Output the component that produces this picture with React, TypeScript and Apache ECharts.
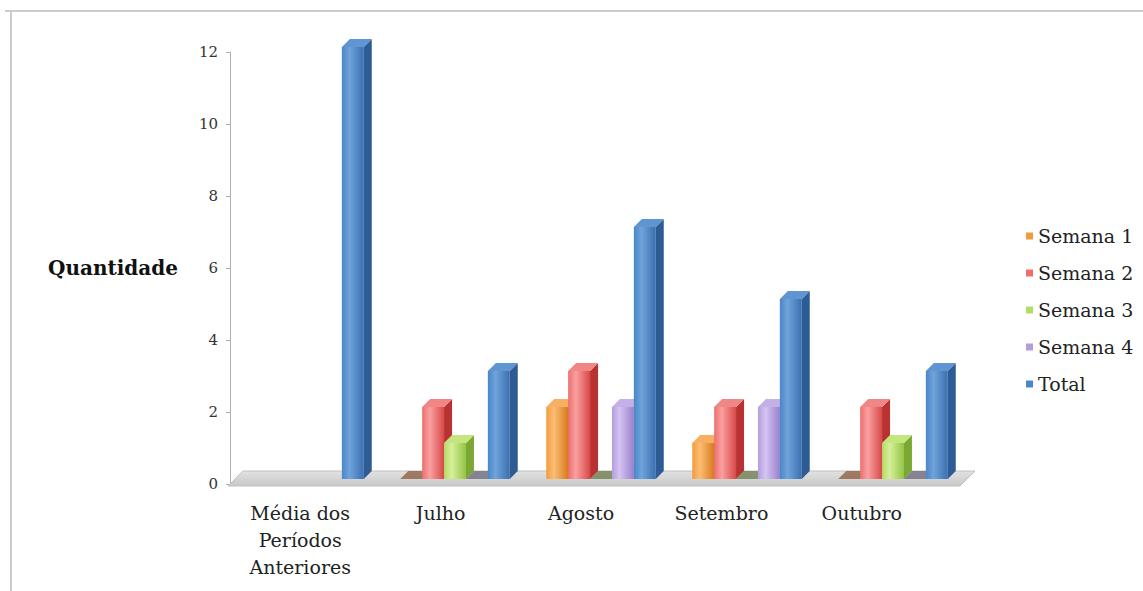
import React, { useEffect, useRef } from "react";
import * as echarts from "echarts";

// ---- Data ----
const categories = ["Média dos\nPeríodos\nAnteriores", "Julho", "Agosto", "Setembro", "Outubro"];
const seriesNames = ["Semana 1", "Semana 2", "Semana 3", "Semana 4", "Total"];
const semana1: (number | null)[] = [null, 0, 2, 1, 0];
const semana2: (number | null)[] = [null, 2, 3, 2, 2];
const semana3: (number | null)[] = [null, 1, 0, 0, 1];
const semana4: (number | null)[] = [null, 0, 2, 2, 0];
const total: (number | null)[] = [12, 3, 7, 5, 3];
const yMin = 0;
const yMax = 12;
const yInterval = 2;

const palettes = [
  { base: "#F39A3C", light: "#FBBE74", dark: "#D97A1E", side: "#C4680F", top: "#F7B062", flat: "#8A5A3A" },
  { base: "#EE6E6E", light: "#F9A0A0", dark: "#D94848", side: "#B93232", top: "#F08686", flat: "#7A4A46" },
  { base: "#B3DC66", light: "#D6F09A", dark: "#94C445", side: "#7BA832", top: "#C4E67E", flat: "#6A7A4A" },
  { base: "#B39DDE", light: "#D4C4F2", dark: "#9A80CC", side: "#7F66B2", top: "#C3B0E6", flat: "#6A6478" },
  { base: "#4A86C8", light: "#6FA3DB", dark: "#3A70B0", side: "#2D5C94", top: "#5E95D2", flat: "#3A5570" },
];
const seriesData = [semana1, semana2, semana3, semana4, total];

const DX = 8;
const DY = 8;
const LIFT = 5;
const SERIF = "'DejaVu Serif', serif";

function makeBarRender(idx: number) {
  const pal = palettes[idx];
  return (params: any, api: any) => {
    const cat = api.value(0);
    const val = api.value(1);
    if (val == null || isNaN(val)) return null;
    const band = api.size([1, 0])[0];
    const bw = band * 0.15;
    const base = api.coord([cat, 0]);
    const topP = api.coord([cat, val]);
    const x0 = base[0] - 2.5 * bw + idx * bw;
    const x1 = x0 + bw;
    const yb = base[1] - LIFT;
    const yt = topP[1] - LIFT;
    const children: any[] = [];
    if (val > 0) {
      children.push({
        type: "polygon",
        shape: { points: [[x0, yt], [x1, yt], [x1, yb], [x0, yb]] },
        style: {
          fill: {
            type: "linear", x: 0, y: 0, x2: 1, y2: 0,
            colorStops: [
              { offset: 0, color: pal.base },
              { offset: 0.35, color: pal.light },
              { offset: 1, color: pal.dark },
            ],
          },
        },
      });
      children.push({
        type: "polygon",
        shape: { points: [[x1, yt], [x1 + DX, yt - DY], [x1 + DX, yb - DY], [x1, yb]] },
        style: { fill: pal.side },
      });
      children.push({
        type: "polygon",
        shape: { points: [[x0, yt], [x1, yt], [x1 + DX, yt - DY], [x0 + DX, yt - DY]] },
        style: { fill: pal.top },
      });
    } else {
      children.push({
        type: "polygon",
        shape: { points: [[x0, yb], [x1, yb], [x1 + DX, yb - DY], [x0 + DX, yb - DY]] },
        style: { fill: pal.flat, opacity: 0.75 },
      });
    }
    return { type: "group", children };
  };
}

function renderFloor(params: any, api: any) {
  const cs = params.coordSys;
  const yb = cs.y + cs.height;
  const left = cs.x - 8;
  const right = cs.x + cs.width - 6;
  return {
    type: "polygon",
    shape: {
      points: [
        [left, yb + 2],
        [right, yb + 2],
        [right + 15, yb - 13],
        [left + 15, yb - 13],
      ],
    },
    style: {
      fill: {
        type: "linear", x: 0, y: 0, x2: 0, y2: 1,
        colorStops: [
          { offset: 0, color: "#e2e2e2" },
          { offset: 1, color: "#c8c8c8" },
        ],
      },
      stroke: "#c0c0c0",
      lineWidth: 1,
    },
  };
}

export default function App() {
  const ref = useRef<HTMLDivElement>(null);
  useEffect(() => {
    if (!ref.current) return;
    const chart = echarts.init(ref.current, null, { renderer: "svg" });
    const barSeries = seriesNames.map((name, i) => ({
      name,
      type: "custom",
      xAxisIndex: 0,
      yAxisIndex: 0,
      itemStyle: { color: palettes[i].base },
      renderItem: makeBarRender(i),
      data: seriesData[i].map((v, j) => [j, v == null ? NaN : v]),
      z: 3,
    }));
    chart.setOption({
      animation: false,
      backgroundColor: "#ffffff",
      graphic: [
        { type: "line", shape: { x1: 5, y1: 11, x2: 1143, y2: 11 }, style: { stroke: "#cccccc", lineWidth: 2 }, z: 0 },
        { type: "line", shape: { x1: 11, y1: 11, x2: 11, y2: 591 }, style: { stroke: "#cccccc", lineWidth: 2 }, z: 0 },
      ],
      legend: {
        orient: "vertical",
        left: 1021,
        top: 221,
        itemWidth: 7,
        itemHeight: 7,
        itemGap: 17,
        icon: "rect",
        data: seriesNames,
        textStyle: { fontFamily: SERIF, fontSize: 19, color: "#222", lineHeight: 20 },
      },
      grid: [
        { left: 236, right: 1143 - 966, top: 52, bottom: 107 },
        { left: 230, right: 1143 - 932, top: 52, bottom: 107 },
      ],
      xAxis: [
        { type: "category", gridIndex: 0, data: categories, show: false },
        {
          type: "category",
          gridIndex: 1,
          data: categories,
          axisLine: { show: false },
          axisTick: { show: false },
          axisLabel: {
            margin: 15,
            fontFamily: SERIF,
            fontSize: 19,
            lineHeight: 27,
            color: "#222",
            interval: 0,
          },
        },
      ],
      yAxis: [
        { type: "value", gridIndex: 0, min: yMin, max: yMax, interval: yInterval, show: false },
        {
          type: "value",
          gridIndex: 1,
          min: yMin,
          max: yMax,
          interval: yInterval,
          name: "Quantidade",
          nameLocation: "middle",
          nameRotate: 0,
          nameGap: 52,
          nameTextStyle: { fontFamily: SERIF, fontSize: 20, fontWeight: "bold", color: "#111" },
          axisLine: { show: true, lineStyle: { color: "#b0b0b0", width: 1 } },
          axisTick: { show: true, length: 4, lineStyle: { color: "#b0b0b0" } },
          axisLabel: { fontFamily: SERIF, fontSize: 15, color: "#333", margin: 12 },
          splitLine: { show: false },
        },
      ],
      series: [
        {
          name: "floor",
          type: "custom",
          xAxisIndex: 0,
          yAxisIndex: 0,
          renderItem: renderFloor,
          data: [[0, 0]],
          silent: true,
          z: 1,
        },
        ...barSeries,
      ],
    });
    return () => chart.dispose();
  }, []);
  return (
    <div
      ref={ref}
      style={{ position: "fixed", left: 0, top: 0, width: 1143, height: 591, background: "#fff" }}
    />
  );
}
